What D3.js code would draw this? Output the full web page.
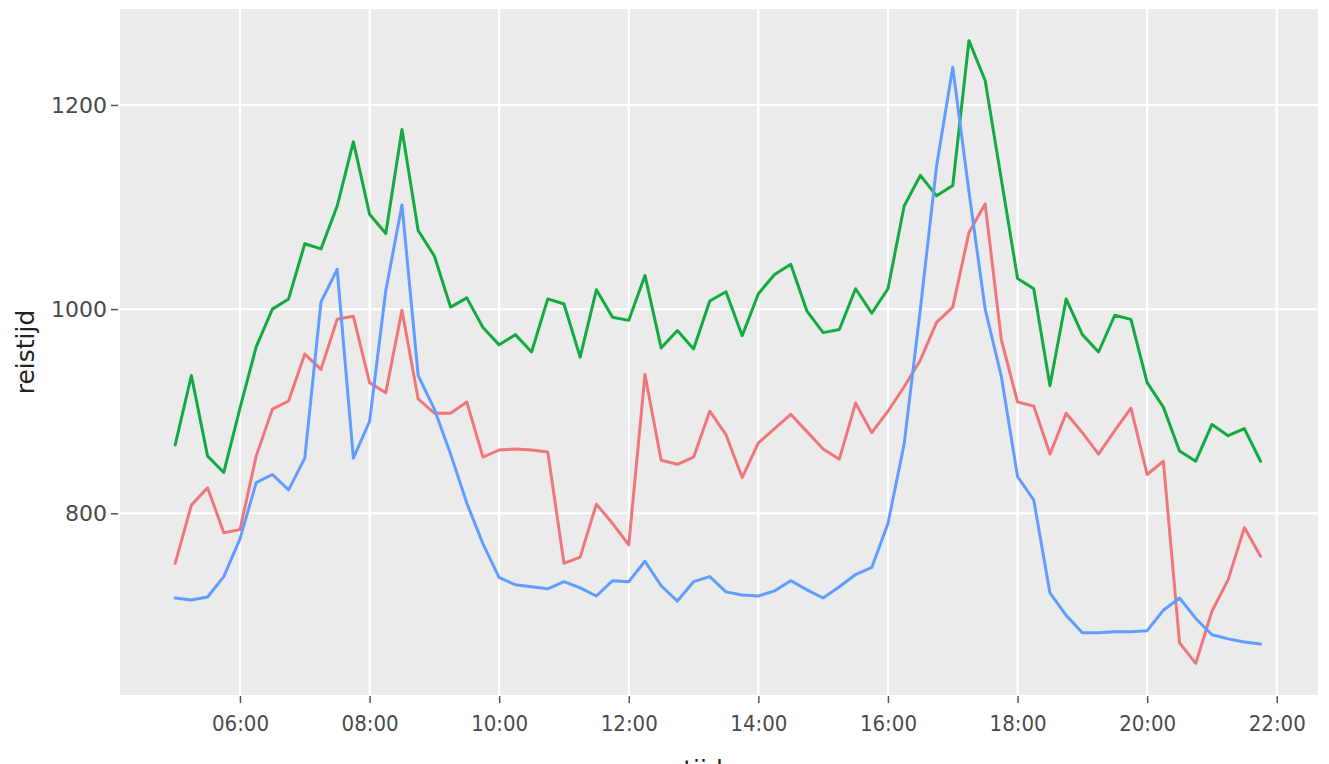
<!DOCTYPE html>
<html>
<head>
<meta charset="utf-8">
<script src="https://cdn.jsdelivr.net/npm/d3@7"></script>
<style>
  html, body { margin: 0; padding: 0; background: #ffffff; }
  svg { display: block; }
</style>
</head>
<body>
<svg id="chart" width="1329" height="764"></svg>
<script>
// ---- data ----
const times = ["05:00","05:15","05:30","05:45","06:00","06:15","06:30","06:45","07:00","07:15","07:30","07:45",
  "08:00","08:15","08:30","08:45","09:00","09:15","09:30","09:45","10:00","10:15","10:30","10:45",
  "11:00","11:15","11:30","11:45","12:00","12:15","12:30","12:45","13:00","13:15","13:30","13:45",
  "14:00","14:15","14:30","14:45","15:00","15:15","15:30","15:45","16:00","16:15","16:30","16:45",
  "17:00","17:15","17:30","17:45","18:00","18:15","18:30","18:45","19:00","19:15","19:30","19:45",
  "20:00","20:15","20:30","20:45","21:00","21:15","21:30","21:45"];

const redValues = [751,808,825,781,784,856,902,910,956,941,990,993,
  928,918,999,912,898,898,909,855,862,863,862,860,
  751,757,809,790,769,936,852,848,855,900,877,835,
  869,883,897,880,863,853,908,879,900,924,950,987,
  1002,1075,1103,970,909,905,858,898,879,858,881,903,
  838,851,673,653,704,735,786,758];

const greenValues = [867,935,856,840,903,963,1000,1010,1064,1059,1101,1164,
  1093,1074,1176,1077,1052,1002,1011,982,965,975,958,1010,
  1005,953,1019,992,989,1033,962,979,961,1008,1017,974,
  1015,1034,1044,998,977,980,1020,996,1020,1101,1131,1111,
  1121,1263,1224,1127,1030,1020,925,1010,975,958,994,990,
  928,904,861,851,887,876,883,851];

const blueValues = [717,715,718,738,775,830,838,823,854,1007,1039,854,
  890,1018,1102,935,902,858,810,770,737,730,728,726,
  733,727,719,734,733,753,729,714,733,738,723,720,
  719,724,734,725,717,728,740,747,790,868,1000,1140,
  1237,1115,1000,934,836,813,722,700,683,683,684,684,
  685,705,717,697,681,677,674,672];

const xTickLabels = ["06:00","08:00","10:00","12:00","14:00","16:00","18:00","20:00","22:00"];
const yTickValues = [800, 1000, 1200];
const seriesNames = ["red", "green", "blue"];
const seriesColors = ["#F0767A", "#12AB40", "#619CFF"];
const xDomainLimits = ["04:08:54", "22:38:12"];
const yDomainLimits = [622, 1294];

// ---- layout ----
const panel = { left: 120, right: 1318, top: 9, bottom: 695 };
const svg = d3.select("#chart");
const parseT = d3.timeParse("%H:%M");
const parseTs = d3.timeParse("%H:%M:%S");

const x = d3.scaleTime()
  .domain(xDomainLimits.map(parseTs))
  .range([panel.left, panel.right]);
const y = d3.scaleLinear()
  .domain(yDomainLimits)
  .range([panel.bottom, panel.top]);

// panel background
svg.append("rect")
  .attr("x", panel.left).attr("y", panel.top)
  .attr("width", panel.right - panel.left)
  .attr("height", panel.bottom - panel.top)
  .attr("fill", "#EBEBEB");

// gridlines
const xTicks = xTickLabels.map(parseT);
svg.append("g").selectAll("line").data(xTicks).join("line")
  .attr("x1", d => x(d)).attr("x2", d => x(d))
  .attr("y1", panel.top).attr("y2", panel.bottom)
  .attr("stroke", "#ffffff").attr("stroke-width", 2);
svg.append("g").selectAll("line").data(yTickValues).join("line")
  .attr("x1", panel.left).attr("x2", panel.right)
  .attr("y1", d => y(d)).attr("y2", d => y(d))
  .attr("stroke", "#ffffff").attr("stroke-width", 2);

// x axis
const xAxis = d3.axisBottom(x)
  .tickValues(xTicks)
  .tickFormat(d3.timeFormat("%H:%M"))
  .tickSize(7).tickPadding(12);
const gx = svg.append("g")
  .attr("transform", `translate(0,${panel.bottom + 1})`)
  .call(xAxis);
gx.select(".domain").remove();
gx.selectAll(".tick line").attr("stroke", "#555").attr("stroke-width", 1.5);
gx.selectAll(".tick text")
  .attr("fill", "#4a4a4a")
  .style("font-family", "'DejaVu Sans Condensed', 'DejaVu Sans', sans-serif")
  .style("font-size", "22px");

// y axis
const yAxis = d3.axisLeft(y)
  .tickValues(yTickValues)
  .tickFormat(d3.format("d"))
  .tickSize(7).tickPadding(4);
const gy = svg.append("g")
  .attr("transform", `translate(${panel.left - 2},0)`)
  .call(yAxis);
gy.select(".domain").remove();
gy.selectAll(".tick line").attr("stroke", "#555").attr("stroke-width", 1.5);
gy.selectAll(".tick text")
  .attr("fill", "#4a4a4a")
  .style("font-family", "'DejaVu Sans', sans-serif")
  .style("font-size", "22px");

// lines
const allSeries = [redValues, greenValues, blueValues];
const line = d3.line()
  .x((d, i) => x(parseT(times[i])))
  .y(d => y(d));
svg.append("g").selectAll("path").data(allSeries).join("path")
  .attr("d", d => line(d))
  .attr("fill", "none")
  .attr("stroke", (d, i) => seriesColors[i])
  .attr("stroke-width", 3)
  .attr("stroke-linejoin", "round")
  .attr("stroke-linecap", "round");

// axis titles
svg.append("text")
  .attr("transform", `translate(34,${(panel.top + panel.bottom) / 2}) rotate(-90)`)
  .attr("text-anchor", "middle")
  .style("font-family", "'DejaVu Sans', sans-serif")
  .style("font-size", "25px")
  .attr("fill", "#222")
  .text("reistijd");

svg.append("text")
  .attr("x", 703).attr("y", 778)
  .attr("text-anchor", "middle")
  .style("font-family", "'DejaVu Sans', sans-serif")
  .style("font-size", "25px")
  .attr("fill", "#222")
  .text("tijd");
</script>
</body>
</html>
